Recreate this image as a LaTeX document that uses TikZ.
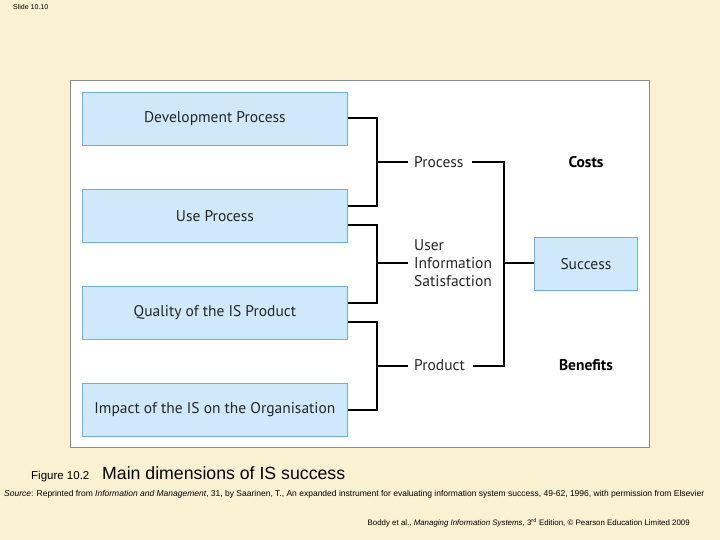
\documentclass[tikz,border=0pt]{standalone}
\usepackage{fontspec}
\setmainfont{Liberation Sans}
\newfontfamily\myr{PT Sans}
\definecolor{bg}{RGB}{250,240,210}
\definecolor{bfill}{RGB}{207,232,250}
\definecolor{bdraw}{RGB}{110,175,220}
\begin{document}
\begin{tikzpicture}[x=1pt,y=-1pt,
  bx/.style={draw=bdraw,fill=bfill,line width=0.8pt,font=\myr\fontsize{15.5}{17}\selectfont,text=black!85},
  lbl/.style={font=\myr\fontsize{15.5}{18}\selectfont,anchor=west,inner sep=0pt,text=black!85},
  ln/.style={line width=1.3pt,black}]
\fill[bg] (0,0) rectangle (720,540);
\useasboundingbox (0,0) rectangle (720,540);
\node[anchor=north west,inner sep=0pt,font=\fontsize{7}{8}\selectfont] (slide) at (13,4) {Slide 10.10};
\draw[fill=white,draw=black!45] (70,80) rectangle (649,447);
\foreach \n/\y/\t in {b1/92/Development Process,b2/189/Use Process,b3/286/Quality of the IS Product,b4/383/Impact of the IS on the Organisation}{
  \node[bx,minimum width=265pt,minimum height=53pt,anchor=north west] (\n) at (82,\y) {\t};}
\node[bx,minimum width=103pt,minimum height=53pt,anchor=north west] (succ) at (534,237) {Success};
\node[lbl] (proc) at (414,162) {Process};
\node[lbl,align=left] (uis) at (414,263) {User\\Information\\Satisfaction};
\node[lbl] (prod) at (414,365) {Product};
\node[font=\myr\bfseries\fontsize{15.5}{17}\selectfont] (costs) at (586,162) {Costs};
\node[font=\myr\bfseries\fontsize{15.5}{17}\selectfont] (ben) at (586,365) {Benefits};
\draw[ln] (b1.east|-0,118) -- (377,118) -- (377,206) -- (b2.east|-0,206);
\draw[ln] (377,162) -- ([xshift=-6pt]proc.west|-0,162);
\draw[ln] (b2.east|-0,225) -- (377,225) -- (377,303) -- (b3.east|-0,303);
\draw[ln] (377,263) -- ([xshift=-6pt]uis.west|-0,263);
\draw[ln] (b3.east|-0,322) -- (377,322) -- (377,410) -- (b4.east|-0,410);
\draw[ln] (377,366) -- ([xshift=-6pt]prod.west|-0,366);
\draw[ln] ([xshift=8pt]proc.east|-0,162) -- (504,162) -- (504,366) -- ([xshift=8pt]prod.east|-0,366);
\draw[ln] (504,263) -- (succ.west|-0,263);
\node[anchor=base west,inner sep=0pt,font=\fontsize{11.5}{13}\selectfont] (fig) at (31,479) {Figure 10.2};
\node[anchor=base west,inner sep=0pt,font=\fontsize{17.7}{19}\selectfont] (title) at (102,479) {Main dimensions of IS success};
\node[anchor=base west,inner sep=0pt,font=\fontsize{8.5}{9}\selectfont] (src) at (4,496) {\textit{Source}: Reprinted from \textit{Information and Management}, 31, by Saarinen, T., An expanded instrument for evaluating information system success, 49-62, 1996, with permission from Elsevier};
\node[anchor=base east,inner sep=0pt,font=\fontsize{7.9}{8}\selectfont] (cr) at (690,525) {Boddy et al., \textit{Managing Information Systems}, 3\textsuperscript{rd} Edition, © Pearson Education Limited 2009};
\end{tikzpicture}
\end{document}
